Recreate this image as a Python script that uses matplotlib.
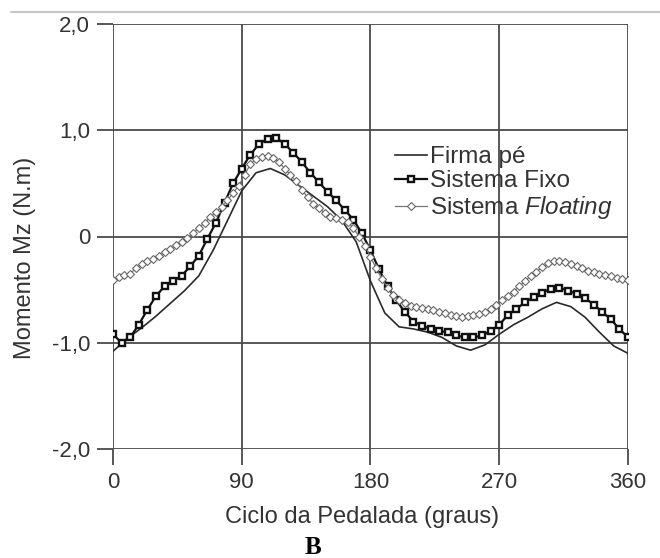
import matplotlib

matplotlib.use("Agg")
import matplotlib.pyplot as plt
from matplotlib.lines import Line2D

# Firma pé (solid line), every 10 degrees
firma_deg = list(range(0, 361, 10))
firma_mz = [-1.08, -0.96, -0.86, -0.75, -0.63, -0.51, -0.37, -0.13, 0.15, 0.43,
            0.60, 0.64, 0.58, 0.48, 0.38, 0.28, 0.15, -0.05, -0.42, -0.72,
            -0.85, -0.87, -0.90, -0.95, -1.03, -1.07, -1.02, -0.92, -0.83, -0.76,
            -0.68, -0.62, -0.66, -0.76, -0.90, -1.03, -1.10]

# Sistema Fixo (squares), every 6 degrees
fixo_deg = list(range(0, 361, 6))
fixo_mz = [-0.92, -1.00, -0.95, -0.83, -0.69, -0.56, -0.47, -0.42, -0.37, -0.28,
           -0.18, -0.02, 0.13, 0.32, 0.50, 0.64, 0.77, 0.87, 0.92, 0.93,
           0.87, 0.79, 0.70, 0.60, 0.51, 0.42, 0.34, 0.25, 0.16, 0.03,
           -0.13, -0.31, -0.47, -0.60, -0.71, -0.80, -0.84, -0.87, -0.89, -0.90,
           -0.93, -0.95, -0.95, -0.93, -0.89, -0.83, -0.74, -0.68, -0.62, -0.57,
           -0.53, -0.49, -0.48, -0.51, -0.54, -0.58, -0.64, -0.71, -0.78, -0.87,
           -0.95]

# Sistema Floating (diamonds), every 4 degrees
float_deg = list(range(0, 361, 4))
float_mz = [-0.41, -0.38, -0.36, -0.35, -0.30, -0.26, -0.23, -0.21, -0.18, -0.15,
            -0.12, -0.08, -0.05, -0.01, 0.03, 0.08, 0.13, 0.18, 0.23, 0.28,
            0.34, 0.41, 0.48, 0.58, 0.68, 0.73, 0.75, 0.76, 0.74, 0.70,
            0.64, 0.58, 0.52, 0.44, 0.37, 0.31, 0.27, 0.22, 0.18, 0.17,
            0.16, 0.14, 0.08, 0.00, -0.09, -0.19, -0.30, -0.40, -0.48, -0.55,
            -0.60, -0.63, -0.65, -0.66, -0.67, -0.68, -0.69, -0.71, -0.72, -0.74,
            -0.75, -0.76, -0.75, -0.74, -0.73, -0.71, -0.68, -0.64, -0.60, -0.56,
            -0.52, -0.47, -0.42, -0.37, -0.33, -0.29, -0.25, -0.23, -0.23, -0.24,
            -0.26, -0.28, -0.30, -0.32, -0.33, -0.35, -0.36, -0.37, -0.39, -0.40,
            -0.41]

x_ticks = [0, 90, 180, 270, 360]
y_ticks = [-2, -1, 0, 1, 2]
y_tick_labels = ["-2,0", "-1,0", "0", "1,0", "2,0"]

plt.rcParams["font.family"] = ["Liberation Sans", "DejaVu Sans"]
plt.rcParams["mathtext.fontset"] = "custom"
plt.rcParams["mathtext.it"] = "Liberation Sans:italic"
plt.rcParams["mathtext.rm"] = "Liberation Sans"

grid_c = "#4a4a4a"
text_c = "#333333"
W, H = 660, 558

fig = plt.figure(figsize=(6.6, 5.58), dpi=100)
ax = fig.add_axes([113 / W, 1 - 449 / H, 515 / W, 425 / H])

ax.plot(firma_deg, firma_mz, color="#2a2a2a", lw=1.2, label="Firma pé", zorder=3)
ax.plot(fixo_deg, fixo_mz, color="#111111", lw=1.6, marker="s", ms=4.6,
        mfc="white", mec="#111111", mew=1.7, label="Sistema Fixo", zorder=4)
ax.plot(float_deg, float_mz, color="#777777", lw=0.9, marker="D", ms=3.6,
        mfc="white", mec="#666666", mew=0.8, label=r"Sistema $\mathit{Floating}$", zorder=5)

ax.set_xlim(0, 360)
ax.set_ylim(-2, 2)
ax.set_xticks(x_ticks)
ax.set_yticks(y_ticks)
ax.set_yticklabels(y_tick_labels)
ax.grid(True, color=grid_c, lw=1.3)
ax.set_axisbelow(True)
for s in ax.spines.values():
    s.set_visible(False)
ax.tick_params(direction="out", length=11.5, width=1.3, color=grid_c,
               labelsize=16, labelcolor=text_c, pad=5)

ax.set_xlabel("Ciclo da Pedalada (graus)", fontsize=17, color=text_c, va="center")
ax.xaxis.set_label_coords((362 - 113) / 515, (449 - 517) / 425)
fig.text(25 / W, 1 - 258 / H, "Momento Mz (N.m)", fontsize=17, color=text_c,
         rotation=90, ha="center", va="center")

ax.legend(loc="upper left", bbox_to_anchor=(0.548, 0.712), frameon=False,
          fontsize=17.5, handlelength=1.3, handletextpad=0.15, labelspacing=0.08,
          labelcolor=text_c, borderaxespad=0, borderpad=0)

fig.add_artist(Line2D([0.016, 1.0], [1 - 12 / H, 1 - 12 / H],
                      transform=fig.transFigure, color="#bbbbbb", lw=1.2))
fig.text(313 / W, 1 - 548 / H, "B", fontsize=18, fontweight="bold",
         family=["Liberation Serif", "DejaVu Serif"], ha="center", va="center")

fig.savefig("out.png", dpi=100)
plt.close(fig)
